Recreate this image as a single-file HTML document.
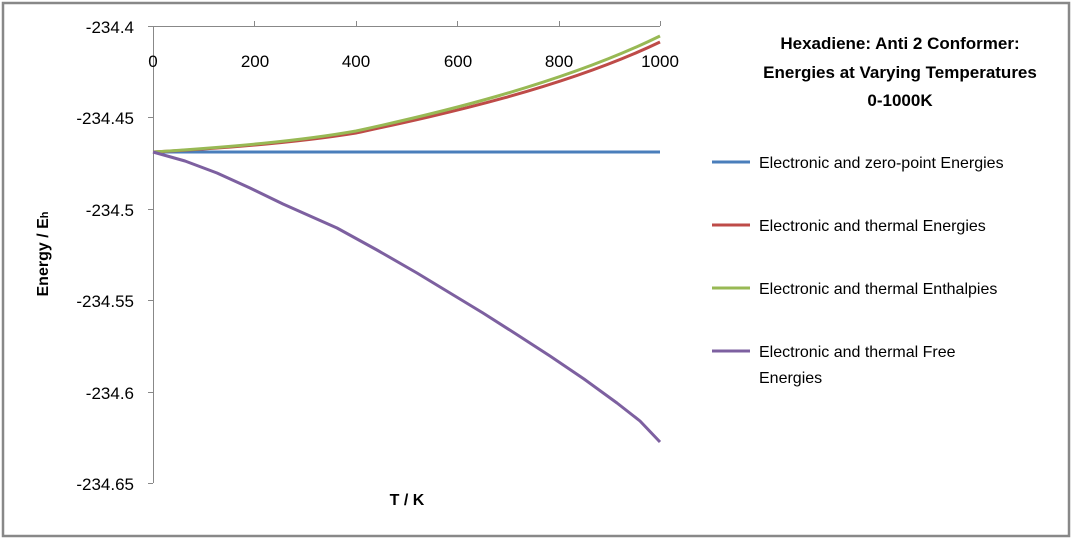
<!DOCTYPE html>
<html><head><style>body{margin:0;background:#fff}svg{display:block;font-family:"Liberation Sans",sans-serif}</style></head>
<body>
<svg width="1072" height="540" viewBox="0 0 1072 540">
<rect x="3" y="3" width="1066" height="533" fill="#fff" stroke="#888" stroke-width="2.5"/>
<g stroke="#888" stroke-width="1" fill="none">
<line x1="153.5" y1="26" x2="153.5" y2="483"/>
<line x1="153" y1="26.5" x2="660" y2="26.5"/>
<line x1="148" y1="26.5" x2="153" y2="26.5"/>
<line x1="148" y1="117.5" x2="153" y2="117.5"/>
<line x1="148" y1="209.5" x2="153" y2="209.5"/>
<line x1="148" y1="300.5" x2="153" y2="300.5"/>
<line x1="148" y1="392.5" x2="153" y2="392.5"/>
<line x1="148" y1="483.5" x2="153" y2="483.5"/>
<line x1="254.5" y1="21" x2="254.5" y2="26"/>
<line x1="356.5" y1="21" x2="356.5" y2="26"/>
<line x1="457.5" y1="21" x2="457.5" y2="26"/>
<line x1="559.5" y1="21" x2="559.5" y2="26"/>
<line x1="660.5" y1="21" x2="660.5" y2="26"/>
</g>
<g font-size="17" fill="#000" text-anchor="end">
<text x="134" y="33">-234.4</text>
<text x="134" y="124">-234.45</text>
<text x="134" y="216">-234.5</text>
<text x="134" y="307">-234.55</text>
<text x="134" y="399">-234.6</text>
<text x="134" y="490">-234.65</text>
</g>
<g font-size="17" fill="#000" text-anchor="middle">
<text x="153" y="67">0</text>
<text x="255" y="67">200</text>
<text x="356" y="67">400</text>
<text x="458" y="67">600</text>
<text x="559" y="67">800</text>
<text x="660" y="67">1000</text>
</g>
<text x="407" y="505" font-size="16" font-weight="bold" text-anchor="middle">T / K</text>
<text transform="translate(48,254) rotate(-90)" font-size="16" font-weight="bold" text-anchor="middle">Energy / E<tspan font-size="11">h</tspan></text>
<g fill="none" stroke-width="3" stroke-linejoin="round">
<line x1="153" y1="152" x2="660" y2="152" stroke="#4a7ebb"/>
<path d="M153,152 C230,148 300,142 356,133 C430,117 560,90 660,42" stroke="#be4b48"/>
<path d="M153,152 C230,147 300,141 356,131 C430,115 560,85 660,36" stroke="#98b954"/>
<polyline points="153,152 185,161 217,173 250,188 283,204 310,216 337,228 377,250 417,273 450,293 483,313 516,334 550,356 584,379 617,403 640,421 660,442" stroke="#7d60a0"/>
</g>
<g font-size="17" font-weight="bold" text-anchor="middle">
<text x="900" y="49">Hexadiene: Anti 2 Conformer:</text>
<text x="900" y="78">Energies at Varying Temperatures</text>
<text x="900" y="106">0-1000K</text>
</g>
<g stroke-width="3">
<line x1="712" y1="162" x2="750" y2="162" stroke="#4a7ebb"/>
<line x1="712" y1="225" x2="750" y2="225" stroke="#be4b48"/>
<line x1="712" y1="288" x2="750" y2="288" stroke="#98b954"/>
<line x1="712" y1="351" x2="750" y2="351" stroke="#7d60a0"/>
</g>
<g font-size="16" fill="#000">
<text x="759" y="168">Electronic and zero-point Energies</text>
<text x="759" y="231">Electronic and thermal Energies</text>
<text x="759" y="294">Electronic and thermal Enthalpies</text>
<text x="759" y="357">Electronic and thermal Free</text>
<text x="759" y="383">Energies</text>
</g>
</svg>
</body></html>
